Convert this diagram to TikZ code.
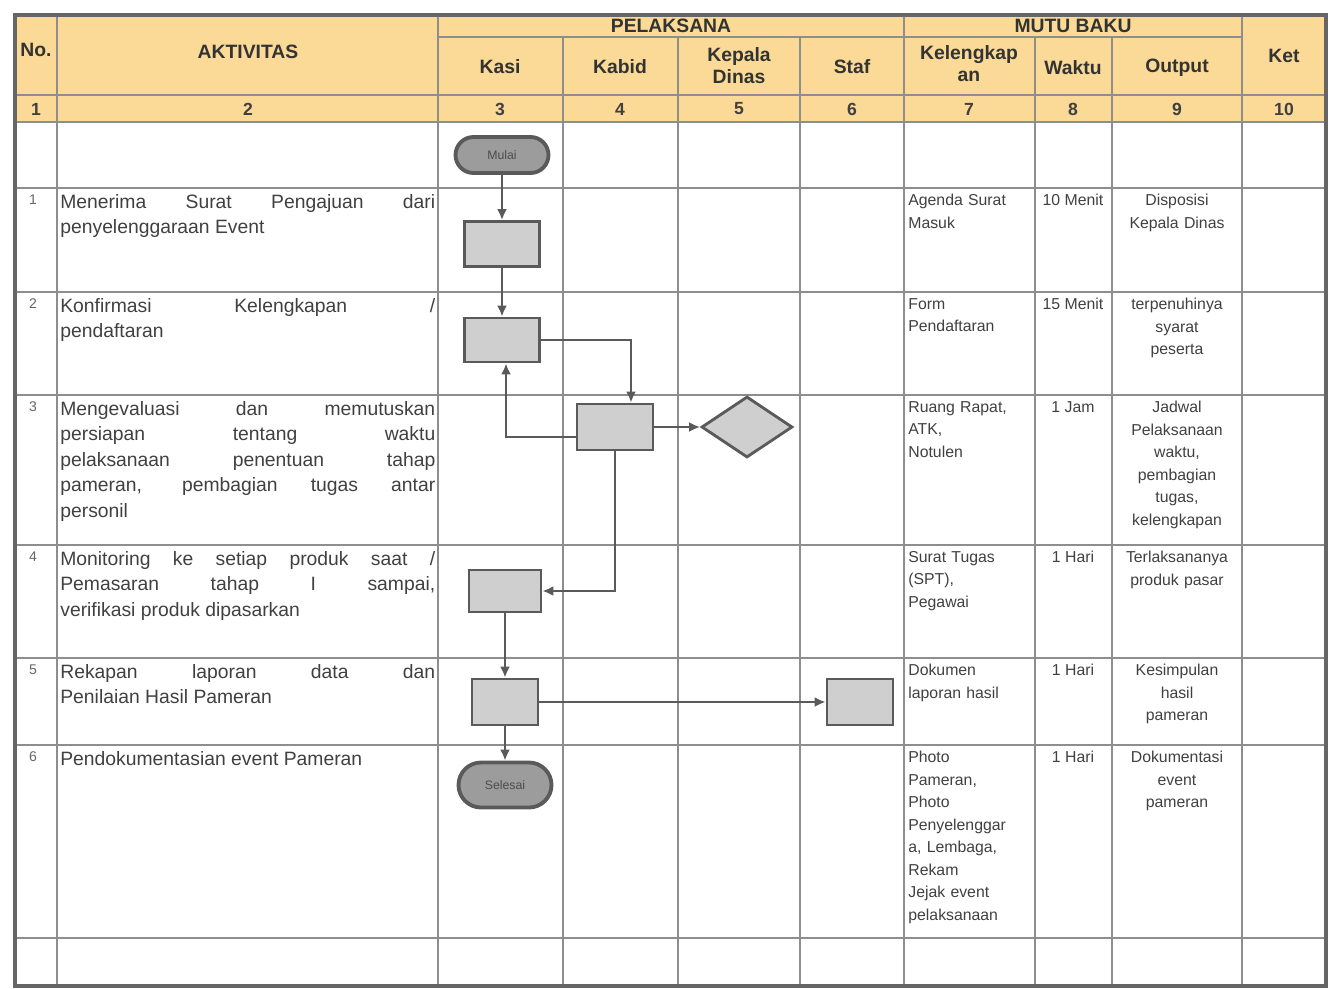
\documentclass[tikz,border=0pt]{standalone}
\usepackage{fontspec}
\setmainfont{Liberation Sans}
\usetikzlibrary{shapes.geometric, arrows.meta, positioning}
\definecolor{hdrbg}{HTML}{FADA96}
\definecolor{gridln}{HTML}{8E8E8E}
\definecolor{boxbg}{HTML}{CFCFCF}
\definecolor{boxln}{HTML}{5A5A5A}
\definecolor{termbg}{HTML}{9C9C9C}
\hyphenpenalty=10000
\tolerance=9999

\begin{document}
\begin{tikzpicture}[x=0.02cm, y=-0.02cm,
    tline/.style = {draw=gridln, line width=1.1pt},
    hdr/.style = {font=\fontsize{11}{12.5}\selectfont\bfseries, text=black!80, align=center, inner sep=0pt},
    num/.style = {font=\fontsize{10}{11}\selectfont\bfseries, text=black!75, inner sep=0pt},
    rno/.style = {anchor=north, font=\fontsize{8}{9}\selectfont, text=black!60, inner sep=0pt},
    act/.style = {anchor=north west, text width=7.5cm, align=justify, inner sep=0pt, font=\fontsize{11}{14.5}\selectfont, text=black!75},
    kel/.style = {anchor=north west, text width=2.5cm, align=left, inner sep=0pt, font=\fontsize{9}{12.8}\selectfont, text=black!75},
    wkt/.style = {anchor=north, align=center, inner sep=0pt, font=\fontsize{9}{12.8}\selectfont, text=black!75},
    outp/.style = {anchor=north, text width=2.5cm, align=center, inner sep=0pt, font=\fontsize{9}{12.8}\selectfont, text=black!75},
    proc/.style = {draw=boxln, fill=boxbg, line width=1.6pt, inner sep=0pt},
    term/.style = {draw=boxln, fill=termbg, line width=2.2pt, minimum width=1.86cm, inner sep=0pt, font=\fontsize{7}{8}\selectfont, text=black!70},
    dec/.style = {diamond, draw=boxln, fill=boxbg, line width=1.6pt, minimum width=1.82cm, minimum height=1.22cm, inner sep=0pt, aspect=1.5},
    flow/.style = {draw=boxln, line width=1.4pt, -{Latex[length=2.2mm, width=2mm]}}]
    \useasboundingbox (0,0) rectangle (1338,988);
    \fill[hdrbg] (15,15) rectangle (1326,122);
    \foreach \gx in {57,438,904,1242} \draw[tline] (\gx,15) -- (\gx,986);
    \foreach \gx in {563,678,800,1035,1112} \draw[tline] (\gx,37) -- (\gx,986);
    \draw[tline] (438,37) -- (1242,37);
    \foreach \gy in {95,122,188,292,395,545,658,745,938} \draw[tline] (15,\gy) -- (1326,\gy);
    \draw[draw=black!60, line width=1.8pt] (15,15) rectangle (1326,986);

    \node[hdr] (hNo) at (36,50) {No.}; \node[hdr] (hAkt) at (248,52) {AKTIVITAS};
    \node[hdr] (hPel) at (671,26) {PELAKSANA}; \node[hdr] (hMutu) at (1073,26) {MUTU BAKU};
    \node[hdr] (hKasi) at (500,67) {Kasi}; \node[hdr] (hKabid) at (620,67) {Kabid}; \node[hdr] (hKadis) at (739,66) {Kepala\\Dinas}; \node[hdr] (hStaf) at (852,67) {Staf};
    \node[hdr] (hKel) at (969,64) {Kelengkap\\an}; \node[hdr] (hWkt) at (1073,68) {Waktu}; \node[hdr] (hOut) at (1177,68) {Output}; \node[hdr] (hKet) at (1284,56) {Ket};
    \foreach \cx/\cn [count=\i] in {36/1,248/2,500/3,620/4,739/5,852/6,969/7,1073/8,1177/9,1284/10} \node[num] (c\i) at (\cx,109) {\cn};

    \node[rno] (n1) at (33,194) {1}; \node[act] (a1) at (60,194) {Menerima Surat Pengajuan dari penyelenggaraan Event};
    \node[kel] (k1) at (908,194) {Agenda Surat\\Masuk}; \node[wkt] (w1) at (1073,194) {10 Menit}; \node[outp] (o1) at (1177,194) {Disposisi\\Kepala Dinas};
    \node[rno] (n2) at (33,298) {2}; \node[act] (a2) at (60,298) {Konfirmasi Kelengkapan /\linebreak pendaftaran};
    \node[kel] (k2) at (908,298) {Form\\Pendaftaran}; \node[wkt] (w2) at (1073,298) {15 Menit}; \node[outp] (o2) at (1177,298) {terpenuhinya\\syarat\\peserta};
    \node[rno] (n3) at (33,401) {3}; \node[act] (a3) at (60,401) {Mengevaluasi dan memutuskan\linebreak persiapan tentang waktu\linebreak pelaksanaan penentuan tahap\linebreak pameran, pembagian tugas antar\linebreak personil};
    \node[kel] (k3) at (908,401) {Ruang Rapat,\\ATK,\\Notulen}; \node[wkt] (w3) at (1073,401) {1 Jam}; \node[outp] (o3) at (1177,401) {Jadwal\\Pelaksanaan\\waktu,\\pembagian\\tugas,\\kelengkapan};
    \node[rno] (n4) at (33,551) {4}; \node[act] (a4) at (60,551) {Monitoring ke setiap produk saat /\linebreak Pemasaran tahap I sampai,\linebreak verifikasi produk dipasarkan};
    \node[kel] (k4) at (908,551) {Surat Tugas\\(SPT),\\Pegawai}; \node[wkt] (w4) at (1073,551) {1 Hari}; \node[outp] (o4) at (1177,551) {Terlaksananya\\produk pasar};
    \node[rno] (n5) at (33,664) {5}; \node[act] (a5) at (60,664) {Rekapan laporan data dan\linebreak Penilaian Hasil Pameran};
    \node[kel] (k5) at (908,664) {Dokumen\\laporan hasil}; \node[wkt] (w5) at (1073,664) {1 Hari}; \node[outp] (o5) at (1177,664) {Kesimpulan\\hasil\\pameran};
    \node[rno] (n6) at (33,751) {6}; \node[act] (a6) at (60,751) {Pendokumentasian event Pameran};
    \node[kel] (k6) at (908,751) {Photo\\Pameran,\\Photo\\Penyelenggar\\a, Lembaga,\\Rekam\\Jejak event\\pelaksanaan}; \node[wkt] (w6) at (1073,751) {1 Hari}; \node[outp] (o6) at (1177,751) {Dokumentasi\\event\\pameran};

    \node[term, minimum height=0.72cm, rounded corners=0.36cm] (start) at (502,155) {Mulai};
    \node[proc, minimum width=1.5cm, minimum height=0.9cm] (b1) at (502,244) {};
    \node[proc, minimum width=1.5cm, minimum height=0.88cm] (b2) at (502,340) {};
    \node[proc, minimum width=1.52cm, minimum height=0.92cm] (b3) at (615,427) {};
    \node[dec] (d1) at (747,427) {};
    \node[proc, minimum width=1.44cm, minimum height=0.84cm] (b4) at (505,591) {};
    \node[proc, minimum width=1.32cm, minimum height=0.92cm] (b5) at (505,702) {};
    \node[proc, minimum width=1.32cm, minimum height=0.92cm] (b6) at (860,702) {};
    \node[term, minimum height=0.9cm, rounded corners=0.45cm] (stop) at (505,785) {Selesai};

    \draw[flow] (start) -- (b1); \draw[flow] (b1) -- (b2);
    \draw[flow] (b2.east) -| ([xshift=0.32cm]b3.north);
    \draw[flow] ([yshift=-0.2cm]b3.west) -| ([xshift=0.08cm]b2.south);
    \draw[flow] (b3) -- (d1);
    \draw[flow] (b3.south) |- (b4.east);
    \draw[flow] (b4) -- (b5); \draw[flow] (b5) -- (b6); \draw[flow] (b5) -- (stop);
\end{tikzpicture}
\end{document}
